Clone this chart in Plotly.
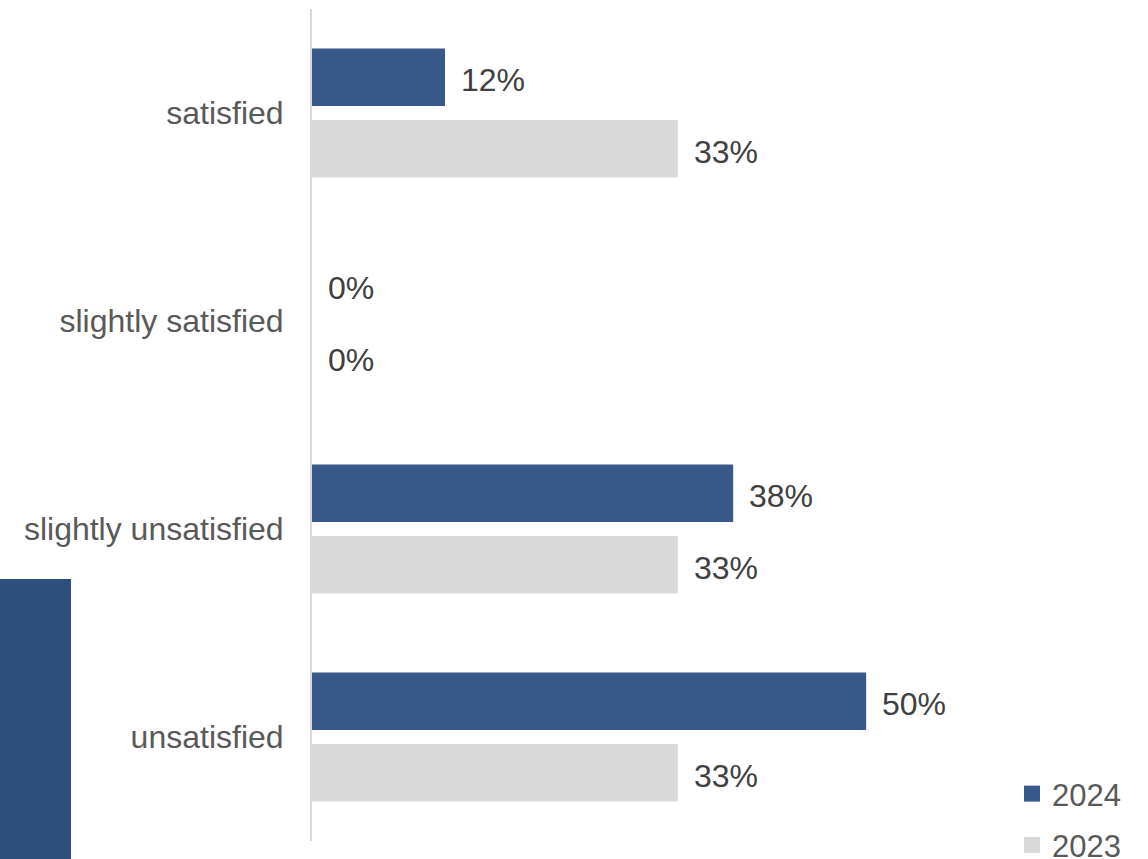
import plotly.graph_objects as go

# Survey satisfaction shares by year
categories = ["satisfied", "slightly satisfied", "slightly unsatisfied", "unsatisfied"]
values_2024 = [12, 0, 38, 50]
values_2023 = [33, 0, 33, 33]
series_names = ["2024", "2023"]

COLOR_2024 = "#38598A"
COLOR_2023 = "#D9D9D9"
FONT = "Liberation Sans, Arial, sans-serif"

W, H = 1148, 859
M_L, M_R, M_T, M_B = 312, 171, 9, 18
X_MAX = 60

fig = go.Figure()

fig.add_trace(go.Bar(
    y=categories, x=values_2024, orientation="h", name=series_names[0],
    marker=dict(color=COLOR_2024, line=dict(width=0)), showlegend=False,
    hoverinfo="skip",
))
fig.add_trace(go.Bar(
    y=categories, x=values_2023, orientation="h", name=series_names[1],
    marker=dict(color=COLOR_2023, line=dict(width=0)), showlegend=False,
    hoverinfo="skip",
))

# legend entries with larger square swatches
for name, color in zip(series_names, [COLOR_2024, COLOR_2023]):
    fig.add_trace(go.Scatter(
        x=[None], y=[None], mode="markers", name=name,
        marker=dict(symbol="square", size=16, color=color),
        legendgroup=name,
    ))

# value labels just past the end of each bar
annotations = []
for cat, v in zip(categories, values_2024):
    annotations.append(dict(
        x=v, y=cat, xref="x", yref="y", text=f"{v}%", showarrow=False,
        xanchor="left", yanchor="middle", xshift=14, yshift=33,
        font=dict(family=FONT, size=32, color="#404040"),
    ))
for cat, v in zip(categories, values_2023):
    annotations.append(dict(
        x=v, y=cat, xref="x", yref="y", text=f"{v}%", showarrow=False,
        xanchor="left", yanchor="middle", xshift=14, yshift=-39,
        font=dict(family=FONT, size=32, color="#404040"),
    ))

plot_w = W - M_L - M_R
plot_h = H - M_T - M_B

fig.update_layout(
    width=W, height=H,
    margin=dict(l=M_L, r=M_R, t=M_T, b=M_B, pad=0, autoexpand=False),
    paper_bgcolor="white", plot_bgcolor="white",
    barmode="group", bargap=0.3125, bargroupgap=0.196,
    font=dict(family=FONT, size=32, color="#595959"),
    xaxis=dict(range=[0, X_MAX], showgrid=False, zeroline=False,
               showticklabels=False, showline=False, fixedrange=True),
    yaxis=dict(autorange="reversed", showgrid=False, zeroline=False,
               showline=True, linecolor="#D9D9D9", linewidth=2,
               ticks="", ticklabelstandoff=20,
               tickfont=dict(family=FONT, size=32, color="#595959")),
    legend=dict(
        x=(1012 - M_L) / plot_w, y=(H - M_B - 767) / plot_h,
        xanchor="left", yanchor="top",
        font=dict(family=FONT, size=31, color="#595959"),
        traceorder="grouped", tracegroupgap=8,
        bgcolor="rgba(0,0,0,0)",
    ),
    annotations=annotations,
    shapes=[dict(
        type="rect", xref="paper", yref="paper",
        x0=(0 - M_L) / plot_w, x1=(71 - M_L) / plot_w,
        y0=(H - M_B - 579) / plot_h, y1=-0.1,
        fillcolor="#2E4E7E", line=dict(width=0), layer="below",
    )],
)

fig.write_html("out.html")
